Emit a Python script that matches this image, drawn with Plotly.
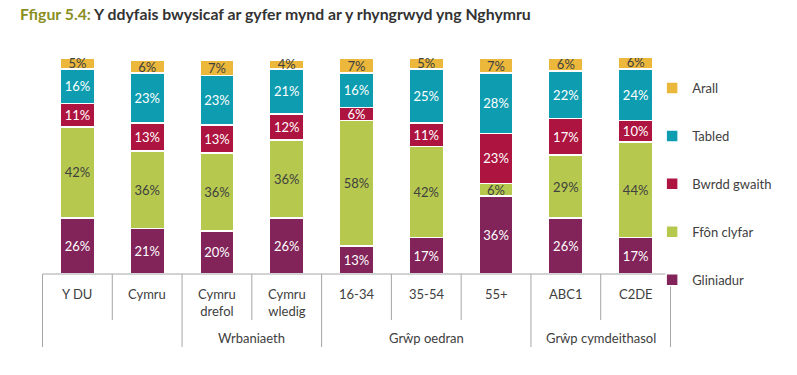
import plotly.graph_objects as go

categories = ["Y DU", "Cymru", "Cymru drefol", "Cymru wledig", "16-34", "35-54", "55+", "ABC1", "C2DE"]
tick_labels = ["Y DU", "Cymru", "Cymru<br>drefol", "Cymru<br>wledig", "16-34", "35-54", "55+", "ABC1", "C2DE"]
groups = [("Wrbaniaeth", 2, 3), ("Grŵp oedran", 4, 6), ("Grŵp cymdeithasol", 7, 8)]

gliniadur = [26, 21, 20, 26, 13, 17, 36, 26, 17]
ffon_clyfar = [42, 36, 36, 36, 58, 42, 6, 29, 44]
bwrdd_gwaith = [11, 13, 13, 12, 6, 11, 23, 17, 10]
tabled = [16, 23, 23, 21, 16, 25, 28, 22, 24]
arall = [5, 6, 7, 4, 7, 5, 7, 6, 6]

series = [
    ("Gliniadur", gliniadur, "#82245A", "white"),
    ("Ffôn clyfar", ffon_clyfar, "#B6C94E", "#404040"),
    ("Bwrdd gwaith", bwrdd_gwaith, "#AE1440", "white"),
    ("Tabled", tabled, "#0E9DB0", "white"),
    ("Arall", arall, "#EBB83C", "#404040"),
]

FONT = "Lato"
fig = go.Figure()
for i, (name, vals, col, tcol) in enumerate(series):
    fig.add_trace(go.Bar(
        name=name, x=categories, y=vals,
        marker=dict(color=col, line=dict(color="white", width=1.5)),
        text=[f"{v}%" for v in vals], textposition="inside",
        insidetextanchor="middle", textangle=0, constraintext="none",
        textfont=dict(color=tcol, size=13, family=FONT),
        legendgroup=name, legendrank=len(series) - i,
    ))

shapes = []
top_h = 0.213
long_h = 0.338
line_col = "#A6A6A6"
shapes.append(dict(type="line", xref="x", yref="paper", x0=-0.5, x1=8.5, y0=0, y1=0,
                   line=dict(color=line_col, width=1)))
long_bounds = {-0.5, 1.5, 3.5, 6.5, 8.5}
for b in [i - 0.5 for i in range(10)]:
    h = long_h if b in long_bounds else top_h
    shapes.append(dict(type="line", xref="x", yref="paper", x0=b, x1=b, y0=0, y1=-h,
                       line=dict(color=line_col, width=1)))

annotations = []
for i, t in enumerate(tick_labels):
    annotations.append(dict(x=i, xref="x", y=0, yref="paper", yanchor="top", yshift=-10,
                            text=t, showarrow=False, font=dict(size=13, color="#404040", family=FONT)))
for g, a, b in groups:
    annotations.append(dict(x=(a + b) / 2, xref="x", y=0, yref="paper", yanchor="middle", yshift=-64,
                            text=g, showarrow=False, font=dict(size=13, color="#404040", family=FONT)))
annotations.append(dict(x=0, xref="paper", xanchor="left", xshift=-24, y=1, yref="paper", yanchor="middle",
                        yshift=45, showarrow=False,
                        text="<b><span style='color:#8A8F1F'>Ffigur 5.4:</span> Y ddyfais bwysicaf ar gyfer mynd ar y rhyngrwyd yng Nghymru</b>",
                        font=dict(size=15.8, color="#333333", family=FONT)))

fig.update_layout(
    width=797, height=375,
    margin=dict(l=42, r=126, t=58, b=101, autoexpand=False),
    barmode="stack", bargap=0.51,
    plot_bgcolor="white", paper_bgcolor="white",
    xaxis=dict(showticklabels=False, showline=False, showgrid=False, zeroline=False, ticks=""),
    yaxis=dict(range=[0, 100], visible=False),
    uniformtext=dict(minsize=13, mode="show"),
    shapes=shapes, annotations=annotations,
    legend=dict(x=0.970, xanchor="left", y=0.93, yanchor="top", traceorder="grouped",
                tracegroupgap=28, font=dict(size=13, color="#404040", family=FONT),
                itemwidth=30, bgcolor="rgba(0,0,0,0)", maxheight=320),
    font=dict(family=FONT),
)
fig.write_html("out.html", config={"displayModeBar": False},
               post_script="document.body.style.margin='0';")
